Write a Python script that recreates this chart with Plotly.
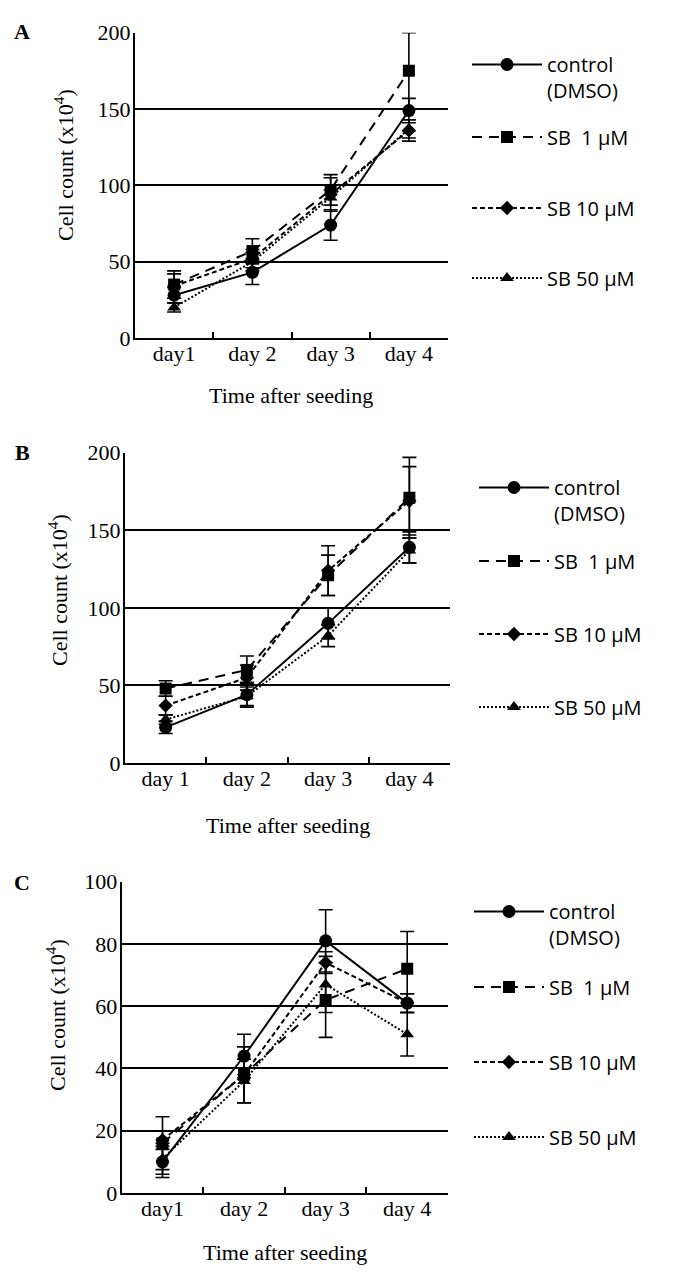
import plotly.graph_objects as go

W, H = 688, 1273
OFF = 8  # page body margin of the rendered html page

# ---- data ----
days_A = ["day1", "day 2", "day 3", "day 4"]
days_B = ["day 1", "day 2", "day 3", "day 4"]
days_C = ["day1", "day 2", "day 3", "day 4"]

series_names = ["control<br>(DMSO)", "SB\u00a0 1 \u03bcM", "SB 10 \u03bcM", "SB 50 \u03bcM"]

A_ctrl = [28, 43, 74, 149]
A_ctrl_err = [5, 8, 10, 8]
A_sb1 = [35, 57, 97, 175]
A_sb1_err = [9, 8, 10, 25]
A_sb10 = [34, 52, 94, 136]
A_sb10_err = [8, 6, 11, 7]
A_sb50 = [20, 50, 92, 137]
A_sb50_err = [3, 6, 5, 6]

B_ctrl = [23, 44, 90, 139]
B_ctrl_err = [4, 8, 10, 10]
B_sb1 = [48, 60, 121, 171]
B_sb1_err = [5, 9, 13, 26]
B_sb10 = [37, 55, 124, 169]
B_sb10_err = [6, 8, 16, 22]
B_sb50 = [28, 43, 82, 137]
B_sb50_err = [3, 6, 7, 8]

C_ctrl = [10, 44, 81, 61]
C_ctrl_err = [5, 7, 10, 3]
C_sb1 = [16, 38, 62, 72]
C_sb1_err = [8.5, 9, 12, 12]
C_sb10 = [17, 38, 74, 61]
C_sb10_err = [3, 9, 3.5, 3]
C_sb50 = [11, 36, 67, 51]
C_sb50_err = [5, 7, 9, 7]

yticks_AB = [0, 50, 100, 150, 200]
yticks_C = [0, 20, 40, 60, 80, 100]

# ---- styles ----
dashes = ["solid", "10px,7px", "5px,3px", "2px,2px"]
symbols = ["circle", "square", "diamond", "triangle-up"]
msizes = [13, 12, 11, 12]

SERIF = "Liberation Serif"
SANS = "Open Sans"

def px_x(p):
    return (p - OFF) / W

def px_y(p):
    return 1 - (p - OFF) / H

fig = go.Figure()

panels = [
    ("A", days_A, [A_ctrl, A_sb1, A_sb10, A_sb50], [A_ctrl_err, A_sb1_err, A_sb10_err, A_sb50_err], ""),
    ("B", days_B, [B_ctrl, B_sb1, B_sb10, B_sb50], [B_ctrl_err, B_sb1_err, B_sb10_err, B_sb50_err], "2"),
    ("C", days_C, [C_ctrl, C_sb1, C_sb10, C_sb50], [C_ctrl_err, C_sb1_err, C_sb10_err, C_sb50_err], "3"),
]

# legend row centres (px from top) and left edge of each panel's legend
legend_rows = {
    "A": (467, [77.5, 137, 208, 278]),
    "B": (474, [500.5, 561, 634, 707]),
    "C": (469, [924.5, 987, 1062, 1137]),
}

layout = dict(
    width=W, height=H, autosize=False, showlegend=True,
    margin=dict(l=0, r=0, t=0, b=0, pad=0, autoexpand=False),
    paper_bgcolor="white", plot_bgcolor="white",
    font=dict(family=SERIF, color="black", size=22),
    annotations=[],
)

leg_idx = 0
for letter, days, vals, errs, ax in panels:
    lx, rows = legend_rows[letter]
    for i in range(4):
        leg_idx += 1
        leg_name = "legend" if leg_idx == 1 else "legend%d" % leg_idx
        fig.add_trace(go.Scatter(
            x=days, y=vals[i],
            xaxis="x" + ax, yaxis="y" + ax,
            name=series_names[i],
            mode="lines+markers",
            line=dict(color="black", width=2, dash=dashes[i]),
            marker=dict(symbol=symbols[i], size=msizes[i], color="black"),
            error_y=dict(type="data", array=errs[i], visible=True,
                         color="black", thickness=1.6, width=7),
            legend=leg_name, showlegend=True,
        ))
        layout[leg_name] = dict(
            xref="paper", yref="paper", xanchor="left", yanchor="middle",
            x=px_x(lx), y=px_y(rows[i]), visible=True,
            bgcolor="rgba(0,0,0,0)", borderwidth=0,
            font=dict(family=SANS, size=20, color="black"),
            itemwidth=70, valign="top",
            itemclick=False, itemdoubleclick=False,
        )

# panel geometry in pixels (left, right, top, bottom)
geo = {
    "": (135, 448, 32.7, 338),
    "2": (125, 450, 452.7, 763),
    "3": (121.7, 448, 881.7, 1193),
}
ranges = {"": ([0, 200], yticks_AB), "2": ([0, 200], yticks_AB), "3": ([0, 100], yticks_C)}

for ax, (l, r, t, b) in geo.items():
    yr, yt = ranges[ax]
    layout["xaxis" + ax] = dict(
        domain=[px_x(l), px_x(r)], anchor="y" + ax,
        type="category", range=[-0.5, 3.5],
        showline=True, linecolor="black", linewidth=2,
        ticks="inside", tickson="boundaries", ticklen=6, tickwidth=2, tickcolor="black",
        showgrid=False, zeroline=False,
        tickfont=dict(family=SERIF, size=22, color="black"),
        ticklabelstandoff=-5,
        fixedrange=True,
    )
    layout["yaxis" + ax] = dict(
        domain=[px_y(b), px_y(t)], anchor="x" + ax,
        range=yr, tickvals=yt, ticks="",
        showline=True, linecolor="black", linewidth=2,
        showgrid=True, gridcolor="black", gridwidth=2,
        zeroline=False,
        tickfont=dict(family=SERIF, size=22, color="black"),
        ticklabelstandoff=-2,
        fixedrange=True,
    )

# axis titles and panel letters
titles = [
    ("A", 22, 31, 64, 165, 291, 396),
    ("B", 22, 452, 58, 590, 288, 825),
    ("C", 22, 882, 56, 1015, 285, 1252),
]
for letter, lx, ly, tx, ty, xx, xy in titles:
    layout["annotations"].append(dict(
        text="<b>" + letter + "</b>", x=px_x(lx), y=px_y(ly), xref="paper", yref="paper",
        showarrow=False, font=dict(family=SERIF, size=22, color="black"),
        xanchor="center", yanchor="middle"))
    layout["annotations"].append(dict(
        text="Cell count (x10<sup>4</sup>)", x=px_x(tx), y=px_y(ty), xref="paper", yref="paper",
        showarrow=False, textangle=-90, font=dict(family=SERIF, size=22, color="black"),
        xanchor="center", yanchor="middle"))
    layout["annotations"].append(dict(
        text="Time after seeding", x=px_x(xx), y=px_y(xy), xref="paper", yref="paper",
        showarrow=False, font=dict(family=SERIF, size=22, color="black"),
        xanchor="center", yanchor="middle"))

fig.update_layout(**layout)
fig.write_html("out.html")
